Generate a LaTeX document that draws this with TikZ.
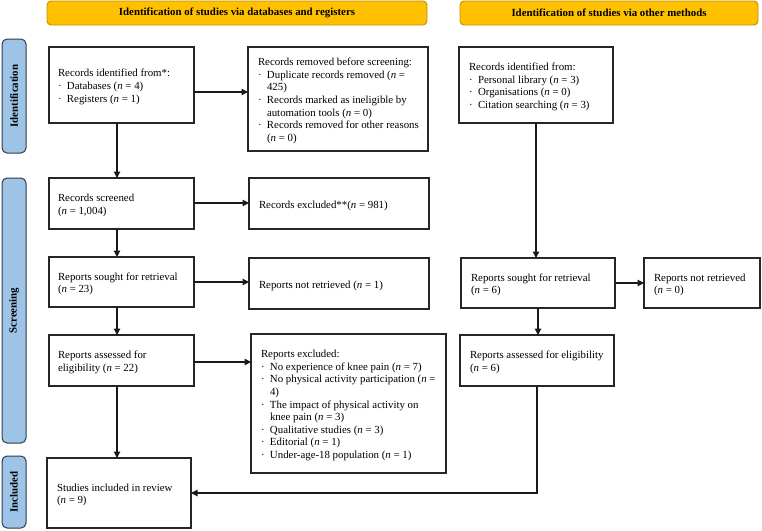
\documentclass[tikz,border=0pt]{standalone}
\usepackage{fontspec}
\setmainfont{Liberation Serif}
\usetikzlibrary{arrows.meta}
\definecolor{hdrfill}{HTML}{FFC000}
\definecolor{hdrdraw}{HTML}{BF9000}
\definecolor{sidefill}{HTML}{9DC3E6}
\definecolor{sidedraw}{HTML}{2E3B4E}
\newcommand{\bl}[1]{\makebox[9pt][l]{·}#1}
\newcommand{\cl}[1]{\hspace*{9pt}#1}
\newcommand{\nn}{\textit{n}}
\newcommand{\lines}[2]{\raisebox{-2pt}[\height][\depth]{\makebox[#1][l]{\begin{tabular}{@{}l@{}}#2\end{tabular}}}}
\begin{document}
\begin{tikzpicture}[x=1pt,y=-1pt,
  txt/.style={font=\fontsize{10.85}{12.6}\selectfont},
  box/.style={txt, draw=black!85, line width=1.2pt, inner xsep=10pt, inner ysep=0pt,
    anchor=north west, outer sep=0pt},
  hdr/.style={draw=hdrdraw, fill=hdrfill, line width=0.9pt, rounded corners=4pt,
    font=\fontsize{10.85}{12.6}\selectfont\bfseries, inner sep=0pt},
  side/.style={draw=sidedraw, fill=sidefill, line width=1pt, rounded corners=5pt,
    font=\fontsize{10.85}{12.6}\selectfont\bfseries, inner sep=0pt},
  arr/.style={line width=1.2pt, draw=black!90, -{Triangle[length=6.5pt,width=6.5pt]}}]
\useasboundingbox (0,0) rectangle (762,530);

% headers
\node[hdr, minimum width=380pt, minimum height=24pt] (h1) at (237,13) {Identification of studies via databases and registers};
\node[hdr, minimum width=298pt, minimum height=24pt] (h2) at (609,13) {Identification of studies via other methods};

% side labels
\node[side, rotate=90, minimum width=114pt, minimum height=24pt] (sid) at (14,96) {Identification};
\node[side, rotate=90, minimum width=265pt, minimum height=24pt] (sscr) at (14,310.5) {Screening};
\node[side, rotate=90, minimum width=72pt, minimum height=24pt] (sinc) at (14,492) {Included};

% left column
\node[box, inner xsep=9pt, minimum width=145pt, minimum height=76pt] (b1) at (49,47)
  {\lines{127pt}{Records identified from*:\\ \bl{Databases (\nn{} = 4)}\\ \bl{Registers (\nn{} = 1)}}};
\node[box, minimum width=180pt, minimum height=104pt] (b2) at (248,47)
  {\lines{160pt}{Records removed before screening:\\
   \bl{Duplicate records removed (\nn{} =}\\ \cl{425)}\\
   \bl{Records marked as ineligible by}\\ \cl{automation tools (\nn{} = 0)}\\
   \bl{Records removed for other reasons}\\ \cl{(\nn{} = 0)}}};
\node[box, inner xsep=9pt, minimum width=145pt, minimum height=51pt] (b3) at (49,178)
  {\lines{127pt}{Records screened\\ (\nn{} = 1,004)}};
\node[box, minimum width=180pt, minimum height=51pt] (b4) at (249,178)
  {\lines{160pt}{Records excluded**(\nn{} = 981)}};
\node[box, inner xsep=9pt, minimum width=145pt, minimum height=50pt] (b5) at (49,257)
  {\lines{127pt}{Reports sought for retrieval\\ (\nn{} = 23)}};
\node[box, minimum width=180pt, minimum height=51pt] (b6) at (249,258)
  {\lines{160pt}{Reports not retrieved (\nn{} = 1)}};
\node[box, inner xsep=9pt, minimum width=145pt, minimum height=51pt] (b7) at (49,335)
  {\lines{127pt}{Reports assessed for\\ eligibility (\nn{} = 22)}};
\node[box, minimum width=195pt, minimum height=139pt] (b8) at (251,334)
  {\lines{175pt}{Reports excluded:\\
   \bl{No experience of knee pain (\nn{} = 7)}\\
   \bl{No physical activity participation (\nn{} =}\\ \cl{4)}\\
   \bl{The impact of physical activity on}\\ \cl{knee pain (\nn{} = 3)}\\
   \bl{Qualitative studies (\nn{} = 3)}\\
   \bl{Editorial (\nn{} = 1)}\\
   \bl{Under-age-18 population (\nn{} = 1)}}};
\node[box, minimum width=144pt, minimum height=70pt] (b9) at (47,458)
  {\lines{124pt}{Studies included in review\\ (\nn{} = 9)}};

% right column
\node[box, minimum width=154pt, minimum height=76pt] (r1) at (459,47)
  {\lines{134pt}{Records identified from:\\ \bl{Personal library (\nn{} = 3)}\\ \bl{Organisations (\nn{} = 0)}\\ \bl{Citation searching (\nn{} = 3)}}};
\node[box, minimum width=154pt, minimum height=50pt] (r2) at (461,258)
  {\lines{134pt}{Reports sought for retrieval\\ (\nn{} = 6)}};
\node[box, minimum width=116pt, minimum height=50pt] (r3) at (644,258)
  {\lines{96pt}{Reports not retrieved\\ (\nn{} = 0)}};
\node[box, minimum width=154pt, minimum height=51pt] (r4) at (460,335)
  {\lines{134pt}{Reports assessed for eligibility\\ (\nn{} = 6)}};

% connectors
\draw[arr] ([yshift=-7pt]b1.east) -- ([yshift=-7pt]b1.east -| b2.west);
\draw[arr] ([xshift=-4.5pt]b1.south) -- ([xshift=-4.5pt]b1.south |- b3.north);
\draw[arr] ([yshift=0.5pt]b3.east) -- ([yshift=0.5pt]b3.east -| b4.west);
\draw[arr] ([xshift=-4.5pt]b3.south) -- ([xshift=-4.5pt]b3.south |- b5.north);
\draw[arr] (b5.east) -- (b5.east -| b6.west);
\draw[arr] ([xshift=-4.5pt]b5.south) -- ([xshift=-4.5pt]b5.south |- b7.north);
\draw[arr] ([yshift=-1.5pt]b7.east) -- ([yshift=-1.5pt]b7.east -| b8.west);
\draw[arr] ([xshift=-4.5pt]b7.south) -- ([xshift=-4.5pt]b7.south |- b9.north);
\draw[arr] (r1.south) -- (r1.south |- r2.north);
\draw[arr] (r2.east) -- (r2.east -| r3.west);
\draw[arr] (r2.south) -- (r2.south |- r4.north);
\draw[arr] (r4.south) |- (b9.east);
\end{tikzpicture}
\end{document}
